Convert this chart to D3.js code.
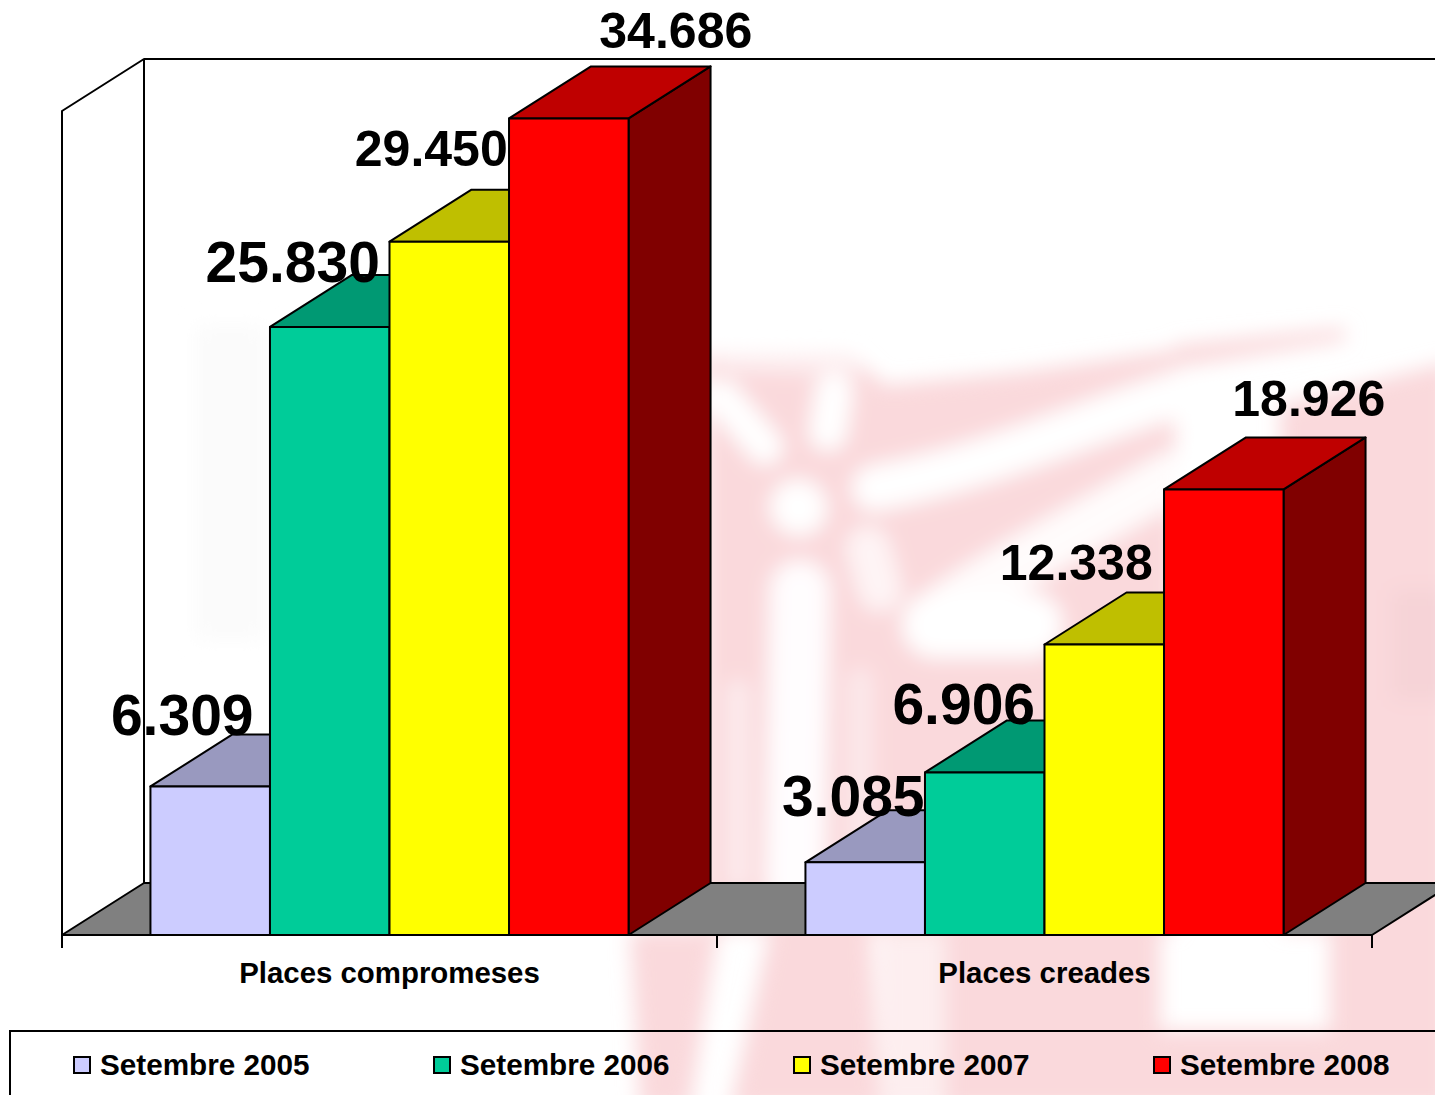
<!DOCTYPE html>
<html>
<head>
  <title>Places compromeses i creades</title>
  <script src="https://d3js.org/d3.v7.min.js"></script>
  <style>
    html, body { margin: 0; padding: 0; background: #fff; overflow: hidden; }
    svg { display: block; }
    text { font-family: "Liberation Sans", Arial, sans-serif; font-weight: bold; fill: #000; }
  </style>
</head>
<body>
  <svg></svg>
  <script>
    var categories = ["Places compromeses", "Places creades"];
    var seriesNames = ["Setembre 2005", "Setembre 2006", "Setembre 2007", "Setembre 2008"];
    var seriesColors = ["#CCCCFF", "#00CC99", "#FFFF00", "#FF0000"];
    var compromeses = [6309, 25830, 29450, 34686];
    var creades = [3085, 6906, 12338, 18926];
    var valueLabels = [["6.309", "25.830", "29.450", "34.686"], ["3.085", "6.906", "12.338", "18.926"]];

    var width = 1435, height = 1095;
    var baseY = 935, depthX = 82, depthY = 52;

    var svg = d3.select("svg").attr("width", width).attr("height", height);

    // blurred watermark behind the chart
    var defs = svg.append("defs");
    defs.append("filter").attr("id", "soft")
      .attr("filterUnits", "userSpaceOnUse").attr("x", -50).attr("y", -50).attr("width", 1550).attr("height", 1200)
      .append("feGaussianBlur").attr("stdDeviation", 10);
    var pink = "#fad9dc";
    var wm = svg.append("g").attr("filter", "url(#soft)");
    var pinkAreas = [
      "M705,355 L850,355 L885,385 L1020,372 L1175,350 L1175,930 L705,930 Z",
      "M1175,345 L1345,328 L1345,340 L1175,368 Z",
      "M1280,405 L1450,362 L1450,1045 L1330,1045 L1330,930 L1283,930 Z",
      "M630,930 L718,930 L702,1030 L690,1110 L640,1110 Z",
      "M770,930 L870,930 L880,1110 L730,1110 Z",
      "M946,930 L1160,930 L1160,1030 L1450,1030 L1450,1110 L946,1110 Z"
    ];
    wm.selectAll("path.area").data(pinkAreas).join("path").attr("class", "area")
      .attr("fill", pink).attr("d", d => d);
    wm.append("path").attr("fill", pink).attr("opacity", 0.45).attr("d", "M880,930 L946,930 L946,1110 L880,1110 Z");
    wm.append("path").attr("fill", "#f6d3d7").attr("d", "M1392,590 L1450,590 L1450,700 L1392,700 Z");
    wm.append("path").attr("fill", "#fbfbfb").attr("d", "M195,325 L265,325 L265,640 L195,640 Z");
    // white lobes cut back out of the pink
    var whiteLobes = [
      { d: "M1185,392 C1100,415 1000,465 875,488", w: 46, o: 1 },
      { d: "M945,610 C1000,570 1080,530 1170,478", w: 52, o: 0.9 },
      { d: "M935,625 L1030,625", w: 66, o: 1 },
      { d: "M722,397 L765,447", w: 36, o: 1 },
      { d: "M834,392 L828,432", w: 38, o: 1 },
      { d: "M798,507 L799,508", w: 56, o: 1 },
      { d: "M800,590 L795,880", w: 60, o: 0.95 },
      { d: "M868,548 L880,590", w: 44, o: 0.7 },
      { d: "M725,360 L850,365", w: 22, o: 0.5 },
      { d: "M738,690 L738,880", w: 22, o: 0.5 },
      { d: "M860,680 L860,880", w: 26, o: 0.4 }
    ];
    wm.selectAll("path.lobe").data(whiteLobes).join("path").attr("class", "lobe")
      .attr("fill", "none").attr("stroke", "#fff").attr("stroke-linecap", "round")
      .attr("stroke-width", d => d.w).attr("opacity", d => d.o).attr("d", d => d.d);

    // scales
    var x0 = d3.scaleBand().domain(categories).range([62, 1372]);
    var x1 = d3.scaleBand().domain(seriesNames).range([0, x0.bandwidth()]).paddingInner(0).paddingOuter(0.74);
    var y = d3.scaleLinear().domain([0, 35000]).range([baseY, 111]);

    var floorY = baseY - depthY;
    var wallTop = y(35000) - depthY;
    var axisLeft = x0.range()[0], axisRight = x0.range()[1];

    function shade(col, k) {
      var c = d3.rgb(col);
      return d3.rgb(c.r * k, c.g * k, c.b * k).formatHex();
    }

    // walls and floor
    var chart = svg.append("g").attr("stroke", "#000").attr("stroke-width", 2).attr("stroke-linejoin", "round");
    chart.append("path").attr("fill", "none")
      .attr("d", d3.line()([[axisLeft, baseY], [axisLeft, y(35000)], [axisLeft + depthX, wallTop], [axisLeft + depthX, floorY]]));
    chart.append("path").attr("fill", "none")
      .attr("d", d3.line()([[axisLeft + depthX, wallTop], [axisRight + depthX, wallTop]]));
    chart.append("path").attr("fill", "#808080")
      .attr("d", d3.line()([[axisLeft, baseY], [axisLeft + depthX, floorY], [axisRight + depthX, floorY], [axisRight, baseY]]) + "Z");

    // 3d bars
    var allValues = [compromeses, creades];
    categories.forEach(function (cat, c) {
      var g = chart.append("g").attr("transform", "translate(" + x0(cat) + ",0)");
      var bars = g.selectAll("g").data(allValues[c]).join("g");
      var bw = x1.bandwidth();
      bars.append("path") // side
        .attr("fill", (d, i) => shade(seriesColors[i], 0.5))
        .attr("d", (d, i) => {
          var l = x1(seriesNames[i]) + bw;
          return d3.line()([[l, y(d)], [l + depthX, y(d) - depthY], [l + depthX, floorY], [l, baseY]]) + "Z";
        });
      bars.append("path") // top
        .attr("fill", (d, i) => shade(seriesColors[i], 0.75))
        .attr("d", (d, i) => {
          var l = x1(seriesNames[i]);
          return d3.line()([[l, y(d)], [l + depthX, y(d) - depthY], [l + bw + depthX, y(d) - depthY], [l + bw, y(d)]]) + "Z";
        });
      bars.append("rect") // front
        .attr("fill", (d, i) => seriesColors[i])
        .attr("x", (d, i) => x1(seriesNames[i]))
        .attr("y", d => y(d))
        .attr("width", bw)
        .attr("height", d => baseY - y(d));
    });

    // category axis: ticks sit on the band edges, labels in the band centres
    var tickGroup = svg.append("g").attr("stroke", "#000").attr("stroke-width", 2);
    tickGroup.append("line").attr("x1", axisLeft).attr("x2", axisRight).attr("y1", baseY).attr("y2", baseY);
    var edges = categories.map(d => x0(d)).concat([axisRight]);
    tickGroup.selectAll("line.tick").data(edges).join("line").attr("class", "tick")
      .attr("x1", d => d).attr("x2", d => d).attr("y1", baseY).attr("y2", baseY + 13);

    var axis = svg.append("g").attr("transform", "translate(0," + baseY + ")")
      .call(d3.axisBottom(x0).tickSize(0).tickPadding(27));
    axis.select(".domain").remove();
    axis.attr("font-family", null).attr("font-size", null);
    axis.selectAll("text").style("font-size", "29.4px");

    // value labels were hand placed in the original: offsets from each bar's front top
    var labelDx = [[-28, -37, -18, 107], [-12, -21, -28, 85]];
    var labelDy = [[-51, -45, -75.5, -70], [-46, -48, -64.5, -73]];
    var labelSize = [[57, 57, 50, 50], [57, 57, 50, 50]];
    var labels = svg.append("g").attr("text-anchor", "middle");
    categories.forEach(function (cat, c) {
      labels.selectAll("text.c" + c).data(allValues[c]).join("text").attr("class", "c" + c)
        .attr("x", (d, i) => x0(cat) + x1(seriesNames[i]) + x1.bandwidth() / 2 + labelDx[c][i])
        .attr("y", (d, i) => y(d) + labelDy[c][i])
        .style("font-size", (d, i) => labelSize[c][i] + "px")
        .text((d, i) => valueLabels[c][i]);
    });

    // legend
    var legend = svg.append("g");
    legend.append("path").attr("fill", "none").attr("stroke", "#000").attr("stroke-width", 2)
      .attr("d", "M10,1100 L10,1031 L1440,1031");
    var legendX = d3.scalePoint().domain(seriesNames).range([74, 1154]);
    var item = legend.selectAll("g").data(seriesNames).join("g")
      .attr("transform", d => "translate(" + legendX(d) + ",1057)");
    item.append("rect").attr("width", 16).attr("height", 16).attr("stroke", "#000").attr("stroke-width", 2)
      .attr("fill", (d, i) => seriesColors[i]);
    item.append("text").attr("x", 26).attr("y", 18).style("font-size", "29.7px").text(d => d);
  </script>
</body>
</html>
